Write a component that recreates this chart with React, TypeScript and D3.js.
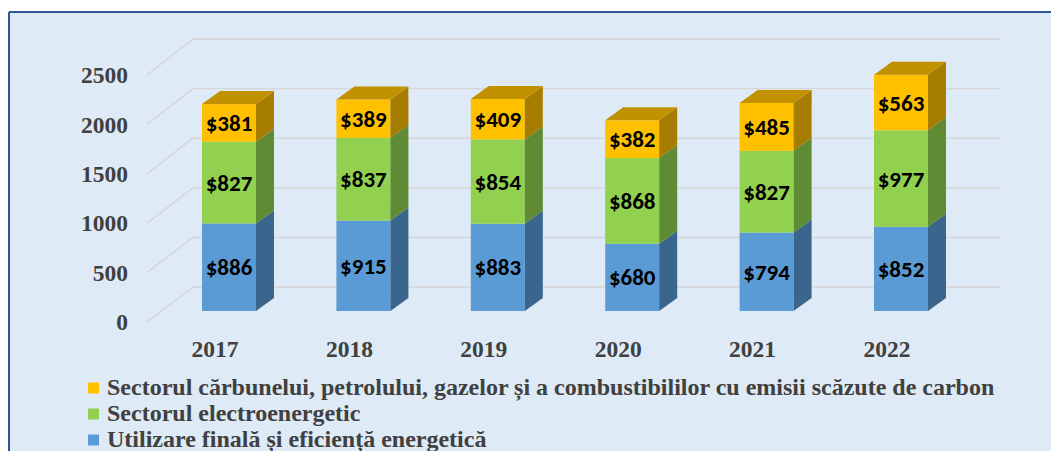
import React from "react";
import * as d3 from "d3";

const years = ["2017", "2018", "2019", "2020", "2021", "2022"];
const finalUse = [886, 915, 883, 680, 794, 852];
const electric = [827, 837, 854, 868, 827, 977];
const fossil = [381, 389, 409, 382, 485, 563];
const yTicks = [0, 500, 1000, 1500, 2000, 2500];
const seriesNames = [
  "Sectorul cărbunelui, petrolului, gazelor și a combustibililor cu emisii scăzute de carbon",
  "Sectorul electroenergetic",
  "Utilizare finală și eficiență energetică",
];

const W = 1051;
const H = 451;
const BG = "#DEEAF6";
const TXT = "#404040";
const serifStyle = { fontFamily: "Liberation Serif" };
const labelStyle = { fontFamily: "Carlito" };
const DX = 18;
const DY = -13;

const colors = [
  { front: "#5B9BD5", side: "#3A658D", top: "#4A7FB0" },
  { front: "#92D050", side: "#5F8B35", top: "#79AE42" },
  { front: "#FFC000", side: "#A67D00", top: "#C29100" },
];

export default function App() {
  const yBar = d3.scaleLinear().domain([0, 2500]).range([311, 64]);
  const yFront = d3.scaleLinear().domain([0, 2500]).range([322, 75]);
  const yBack = d3.scaleLinear().domain([0, 2500]).range([287, 39]);
  const x = d3.scalePoint().domain(years).range([229, 901]);
  const bw = 54;

  const stacks = years.map((y, i) => {
    const vals = [finalUse[i], electric[i], fossil[i]];
    let acc = 0;
    return vals.map((v, k) => {
      const s = { y0: acc, y1: acc + v, v, k };
      acc += v;
      return s;
    });
  });

  return (
    <svg width={W} height={H} style={{ position: "absolute", left: 0, top: 0 }}>
      <rect x={0} y={0} width={W} height={H} fill="#fff" />
      <rect x={9} y={12} width={W - 9} height={H - 12} fill={BG} />
      <line x1={9} y1={12} x2={W} y2={12} stroke="#2F5597" strokeWidth={2} />
      <line x1={9} y1={12} x2={9} y2={H} stroke="#2F5597" strokeWidth={2} />
      {yTicks.map((t) => (
        <g key={t}>
          <line x1={147} y1={yFront(t)} x2={193} y2={yBack(t)} stroke="#D6D6D6" strokeWidth={1.5} />
          <line x1={193} y1={yBack(t)} x2={1001} y2={yBack(t)} stroke="#D6D6D6" strokeWidth={1.5} />
          <text x={128} y={yFront(t)} dy="0.35em" textAnchor="end" style={serifStyle} fontWeight="bold" fontSize={23.5} fill={TXT}>
            {t}
          </text>
        </g>
      ))}
      {years.map((yr, i) => {
        const cx = x(yr) as number;
        const x0 = cx - bw / 2;
        const x1 = cx + bw / 2;
        const segs = stacks[i];
        const last = segs[segs.length - 1];
        return (
          <g key={yr}>
            {segs.map((s) => {
              const yt = yBar(s.y1);
              const yb = yBar(s.y0);
              const c = colors[s.k];
              return (
                <g key={s.k}>
                  <rect x={x0} y={yt} width={bw} height={yb - yt} fill={c.front} />
                  <path d={`M${x1},${yt}L${x1 + DX},${yt + DY}L${x1 + DX},${yb + DY}L${x1},${yb}Z`} fill={c.side} />
                  <text x={cx} y={(yt + yb) / 2} dy="0.35em" textAnchor="middle" style={labelStyle} fontWeight="bold" fontSize={23} fill="#000">
                    {"$" + s.v}
                  </text>
                </g>
              );
            })}
            {(() => {
              const yt = yBar(last.y1);
              return (
                <path d={`M${x0},${yt}L${x0 + DX},${yt + DY}L${x1 + DX},${yt + DY}L${x1},${yt}Z`} fill={colors[2].top} />
              );
            })()}
            <text x={cx - 14} y={357} textAnchor="middle" style={serifStyle} fontWeight="bold" fontSize={23.5} fill={TXT}>
              {yr}
            </text>
          </g>
        );
      })}
      {seriesNames.map((n, k) => {
        const cy = 388 + k * 26;
        const col = colors[2 - k].front;
        return (
          <g key={n}>
            <rect x={88} y={cy - 5.5} width={11} height={11} fill={col} />
            <text x={107} y={cy + 7} style={serifStyle} fontWeight="bold" fontSize={24} fill={TXT}>
              {n}
            </text>
          </g>
        );
      })}
    </svg>
  );
}
